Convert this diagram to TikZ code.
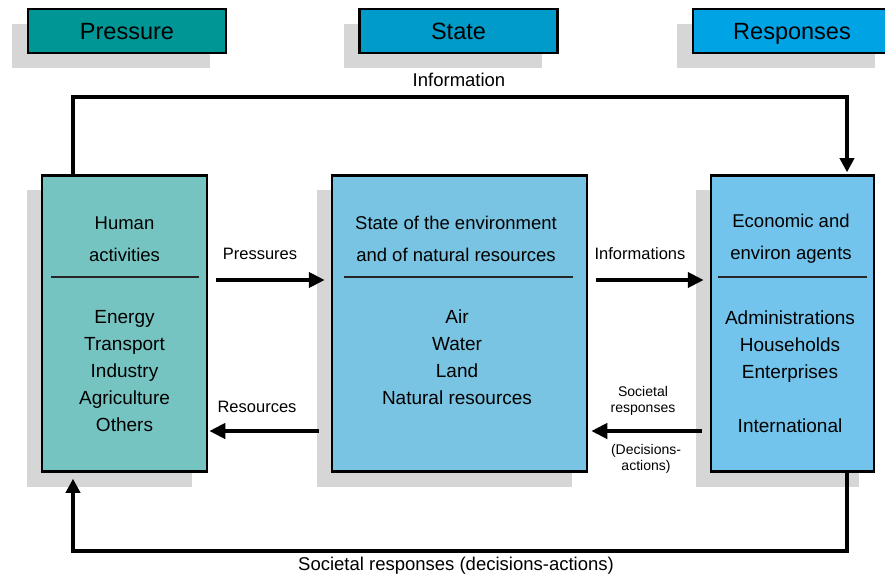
\documentclass[tikz,border=0pt]{standalone}
\usepackage{fontspec}
\setmainfont{Liberation Sans}
\usetikzlibrary{arrows.meta,shadows}

\definecolor{pressurehead}{RGB}{0,150,150}
\definecolor{statehead}{RGB}{0,155,200}
\definecolor{responsehead}{RGB}{0,164,228}
\definecolor{pressurefill}{RGB}{118,196,194}
\definecolor{statefill}{RGB}{121,196,226}
\definecolor{responsefill}{RGB}{115,196,236}
\definecolor{shadowgray}{RGB}{214,214,214}

\begin{document}
\begin{tikzpicture}[x=1pt,y=-1pt,
  headshadow/.style={drop shadow={shadow xshift=-16pt,shadow yshift=-15pt,fill=shadowgray,opacity=1}},
  panelshadow/.style={drop shadow={shadow xshift=-15pt,shadow yshift=-15pt,fill=shadowgray,opacity=1}},
  header/.style={draw=black,line width=2.5pt,minimum width=198pt,minimum height=44pt,
    inner sep=0pt,text depth=0pt,font=\fontsize{23.5}{26}\selectfont,headshadow},
  panel/.style={draw=black,line width=2.5pt,minimum height=296pt,inner sep=0pt,panelshadow},
  paneltitle/.style={align=center,inner sep=0pt,font=\fontsize{18.5}{32}\selectfont},
  panellist/.style={align=center,inner sep=0pt,font=\fontsize{19}{27}\selectfont},
  flowlabel/.style={inner sep=0pt,font=\fontsize{16.5}{18}\selectfont},
  smalllabel/.style={align=center,inner sep=0pt,font=\fontsize{14}{16}\selectfont},
  biglabel/.style={inner sep=0pt,font=\fontsize{18.5}{20}\selectfont},
  divider/.style={line width=2pt,draw=black!85},
  flow/.style={line width=4pt,-{Triangle[length=16pt,width=15pt]}},
  feedback/.style={line width=4pt,-{Triangle[length=14pt,width=14pt]}}
]
\useasboundingbox (0,0) rectangle (885,577);

% helper rows and columns
\coordinate (rowTop) at (0,97);
\coordinate (rowDiv) at (0,277);
\coordinate (rowA) at (0,280);
\coordinate (rowB) at (0,431);
\coordinate (rowBottom) at (0,551);
\coordinate (colLeft) at (73,0);
\coordinate (colRight) at (847,0);

% column headers
\node[header,fill=pressurehead] (Hp) at (127,31) {Pressure};
\node[header,fill=statehead] (Hs) at (458.5,31) {State};
\node[header,fill=responsehead] (Hr) at (792,31) {Responses};

% main panels
\node[panel,fill=pressurefill,minimum width=165pt] (L) at (124.5,323.5) {};
\node[panel,fill=statefill,minimum width=255pt] (M) at (459.5,323.5) {};
\node[panel,fill=responsefill,minimum width=163pt] (R) at (792.5,323.5) {};

% panel contents
\node[paneltitle] (Lt) at (124.5,239) {Human\\activities};
\node[panellist] (Ll) at (124.5,371.5) {Energy\\Transport\\Industry\\Agriculture\\Others};
\draw[divider] ([xshift=10pt]L.west |- rowDiv) -- ([xshift=-9pt]L.east |- rowDiv);

\node[paneltitle] (Mt) at (456,239) {State of the environment\\and of natural resources};
\node[panellist] (Ml) at (457,357.5) {Air\\Water\\Land\\Natural resources};
\draw[divider] ([xshift=13pt]M.west |- rowDiv) -- ([xshift=-15pt]M.east |- rowDiv);

\node[paneltitle] (Rt) at (791,239) {Economic and\\environ agents};
\node[panellist] (Rl) at (790,371.5) {Administrations\\Households\\Enterprises\\[27pt]International};
\draw[divider] ([xshift=8pt]R.west |- rowDiv) -- ([xshift=-8pt]R.east |- rowDiv);

% flows between panels
\draw[flow] ([xshift=8pt]L.east |- rowA) -- ([xshift=-6pt]M.west |- rowA);
\node[flowlabel] (lp) at (260,254) {Pressures};
\draw[flow] ([xshift=-12pt]M.west |- rowB) -- ([xshift=1pt]L.east |- rowB);
\node[flowlabel] (lr) at (257,407) {Resources};
\draw[flow] ([xshift=8pt]M.east |- rowA) -- ([xshift=-6pt]R.west |- rowA);
\node[flowlabel] (li) at (640,254) {Informations};
\draw[flow] ([xshift=-8pt]R.west |- rowB) -- ([xshift=3pt]M.east |- rowB);
\node[smalllabel] (ls) at (643,400.5) {Societal\\responses};
\node[smalllabel] (ld) at (646,458.5) {(Decisions-\\actions)};

% information feedback over the top
\draw[feedback] (L.north -| colLeft) -- (colLeft |- rowTop) -- (colRight |- rowTop)
  -- ([yshift=2pt]R.north -| colRight);
\node[biglabel] (ltop) at (459,80) {Information};

% societal responses back along the bottom
\draw[feedback] (R.south -| colRight) -- (colRight |- rowBottom) -- (colLeft |- rowBottom)
  -- ([yshift=-6pt]L.south -| colLeft);
\node[biglabel] (lbot) at (456,566) {Societal responses (decisions-actions)};
\end{tikzpicture}
\end{document}
